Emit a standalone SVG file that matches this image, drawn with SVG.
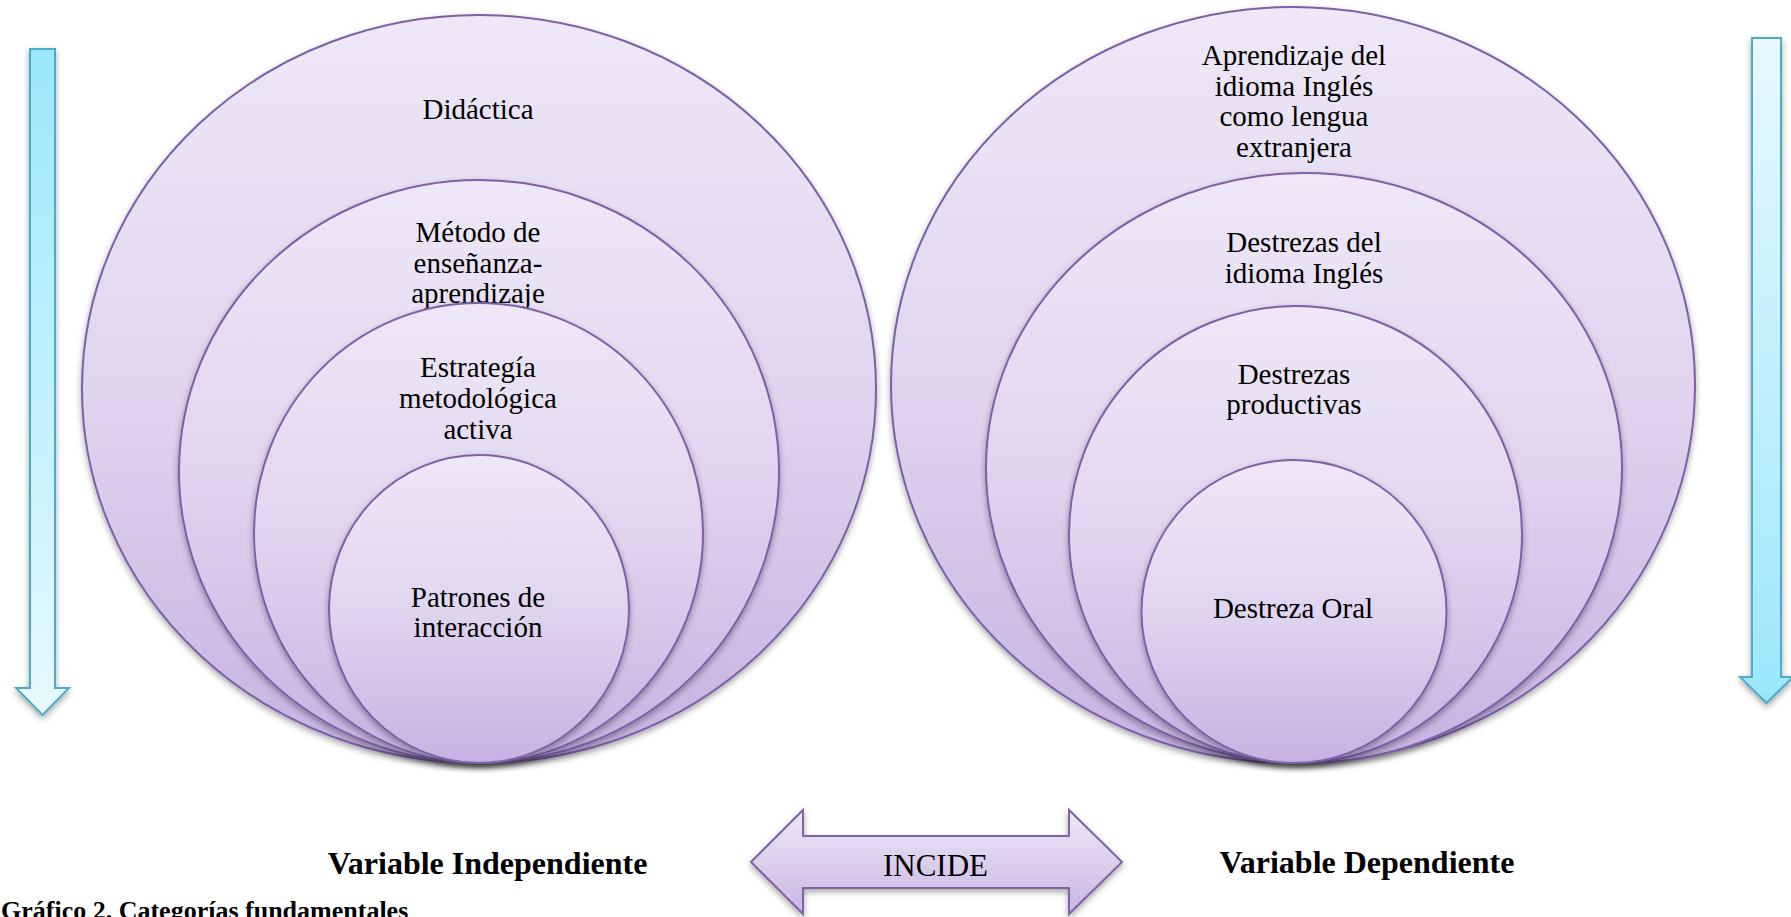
<svg xmlns="http://www.w3.org/2000/svg" width="1791" height="917" viewBox="0 0 1791 917">
  <defs>
    <linearGradient id="gPurple" x1="0" y1="0" x2="0" y2="1">
      <stop offset="0" stop-color="#eee8f7"/>
      <stop offset="0.5" stop-color="#e0d5ef"/>
      <stop offset="1" stop-color="#c6b2e1"/>
    </linearGradient>
    <linearGradient id="gArrowPurple" x1="0" y1="0" x2="0" y2="1">
      <stop offset="0" stop-color="#eee8f7"/>
      <stop offset="1" stop-color="#c9b6e3"/>
    </linearGradient>
    <linearGradient id="gCyanDown" x1="0" y1="0" x2="0" y2="1">
      <stop offset="0" stop-color="#9be7fb"/>
      <stop offset="1" stop-color="#e8f9fe"/>
    </linearGradient>
    <linearGradient id="gCyanUp" x1="0" y1="0" x2="0" y2="1">
      <stop offset="0" stop-color="#e8f9fe"/>
      <stop offset="1" stop-color="#9be7fb"/>
    </linearGradient>
    <filter id="shadow" x="-10%" y="-10%" width="120%" height="125%">
      <feDropShadow dx="0" dy="3" stdDeviation="3" flood-color="#000" flood-opacity="0.35"/>
    </filter>
  </defs>
  <style>
    .ell { fill: url(#gPurple); stroke: #7b60a8; stroke-width: 2; filter: url(#shadow); }
    .lbl { font-family: "Liberation Serif", "Times New Roman", serif; font-size: 29px; fill: #000; text-anchor: middle; }
    .var { font-family: "Liberation Serif", "Times New Roman", serif; font-size: 32px; font-weight: bold; fill: #000; text-anchor: middle; }
    .cap { font-family: "Liberation Serif", "Times New Roman", serif; font-size: 26px; font-weight: bold; fill: #000; }
    .cyan { stroke: #4bacc6; stroke-width: 2; filter: url(#shadow); }
    .dbl { fill: url(#gArrowPurple); stroke: #8064a2; stroke-width: 2; filter: url(#shadow); }
  </style>

  <rect x="0" y="0" width="1791" height="917" fill="#ffffff"/>

  <!-- Left nested categories (independent variable) -->
  <g id="didactica">
    <ellipse class="ell" cx="479" cy="389" rx="397" ry="374"/>
    <text class="lbl" x="478" y="119">Didáctica</text>
  </g>
  <g id="metodo">
    <ellipse class="ell" cx="479" cy="471.5" rx="300" ry="291.5"/>
    <text class="lbl" x="478" y="242">Método de</text>
    <text class="lbl" x="478" y="273">enseñanza-</text>
    <text class="lbl" x="478" y="303">aprendizaje</text>
  </g>
  <g id="estrategia">
    <ellipse class="ell" cx="478.5" cy="533" rx="224.5" ry="230"/>
    <text class="lbl" x="478" y="377">Estrategía</text>
    <text class="lbl" x="478" y="408">metodológica</text>
    <text class="lbl" x="478" y="439">activa</text>
  </g>
  <g id="patrones">
    <ellipse class="ell" cx="479" cy="609" rx="150" ry="154"/>
    <text class="lbl" x="478" y="607">Patrones de</text>
    <text class="lbl" x="478" y="637">interacción</text>
  </g>

  <!-- Right nested categories (dependent variable) -->
  <g id="aprendizaje">
    <ellipse class="ell" cx="1293" cy="385" rx="402" ry="378"/>
    <text class="lbl" x="1294" y="65">Aprendizaje del</text>
    <text class="lbl" x="1294" y="95.5">idioma Inglés</text>
    <text class="lbl" x="1294" y="126">como lengua</text>
    <text class="lbl" x="1294" y="156.5">extranjera</text>
  </g>
  <g id="destrezas-ingles">
    <ellipse class="ell" cx="1304" cy="468" rx="318" ry="295"/>
    <text class="lbl" x="1304" y="252">Destrezas del</text>
    <text class="lbl" x="1304" y="282.5">idioma Inglés</text>
  </g>
  <g id="destrezas-productivas">
    <ellipse class="ell" cx="1295.5" cy="534.5" rx="226.5" ry="228.5"/>
    <text class="lbl" x="1294" y="384">Destrezas</text>
    <text class="lbl" x="1294" y="414">productivas</text>
  </g>
  <g id="destreza-oral">
    <ellipse class="ell" cx="1294" cy="611.5" rx="152.5" ry="151.5"/>
    <text class="lbl" x="1293" y="618">Destreza Oral</text>
  </g>

  <!-- Double arrow INCIDE -->
  <g id="incide">
    <path class="dbl" d="M751,862 L803,810 L803,836 L1069,836 L1069,810 L1122,862 L1069,914 L1069,888 L803,888 L803,914 Z"/>
    <text class="lbl" x="935.5" y="876" style="font-size:31px">INCIDE</text>
  </g>

  <!-- Vertical direction arrows -->
  <g id="connectors">
    <path class="cyan" fill="url(#gCyanDown)" d="M30,49 H55 V688 H69 L42.5,715 L16,688 H30 Z"/>
    <path class="cyan" fill="url(#gCyanUp)" d="M1752,38 H1781 V677 H1793 L1766.5,703 L1740,677 H1752 Z"/>
  </g>

  <g id="labels">
    <text class="var" x="487.5" y="874">Variable Independiente</text>
    <text class="var" x="1367" y="873">Variable Dependiente</text>
    <text class="cap" x="1" y="919">Gráfico 2. Categorías fundamentales</text>
  </g>
</svg>
